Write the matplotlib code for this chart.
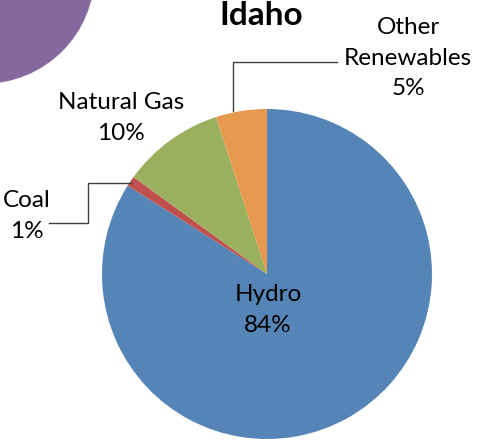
import matplotlib
matplotlib.use("Agg")
import matplotlib.pyplot as plt
from matplotlib.patches import Circle

# Idaho electricity generation mix
sources = ["Hydro", "Coal", "Natural Gas", "Other\nRenewables"]
shares = [84, 1, 10, 5]
colors = ["#5585B6", "#C0504D", "#9BB05E", "#E6994F"]
title = "Idaho"

W, H = 482, 440
plt.rcParams["font.family"] = ["Lato", "DejaVu Sans"]

fig = plt.figure(figsize=(W / 100, H / 100), dpi=100)
ax = fig.add_axes([0, 0, 1, 1])


def Y(y):
    # convert top-down pixel rows to axis units
    return H - y


# decorative purple disc in the upper-left corner
ax.add_patch(Circle((-16, Y(-27)), 110, color="#85699E", zorder=0))

cx, cy, r = 267, Y(274), 165
ax.pie(shares, colors=colors, startangle=90, counterclock=False,
       center=(cx, cy), radius=r, frame=True,
       wedgeprops=dict(linewidth=0))
ax.set_xlim(0, W)
ax.set_ylim(0, H)
ax.set_aspect("equal")
ax.axis("off")

fs = 17.5
ax.text(261, Y(25), title, ha="center", va="baseline", fontsize=24,
        fontweight="bold", color="black")


def lab(i):
    return f"{sources[i]}\n{shares[i]}%"


kw = dict(ha="center", va="center", fontsize=fs, linespacing=1.55)
ax.text(268, Y(310), lab(0), **kw)
ax.text(27, Y(216), lab(1), **kw)
ax.text(121, Y(118), lab(2), **kw)
ax.text(408, Y(58), lab(3), **kw)

# leader lines
lc = "#404040"
ax.plot([49, 88, 88, 131], [Y(223), Y(223), Y(183), Y(183)],
        color=lc, lw=1.0, solid_joinstyle="miter")
ax.plot([337, 233, 233], [Y(62), Y(62), Y(111)],
        color=lc, lw=1.0, solid_joinstyle="miter")

fig.savefig("out.png", dpi=100)
